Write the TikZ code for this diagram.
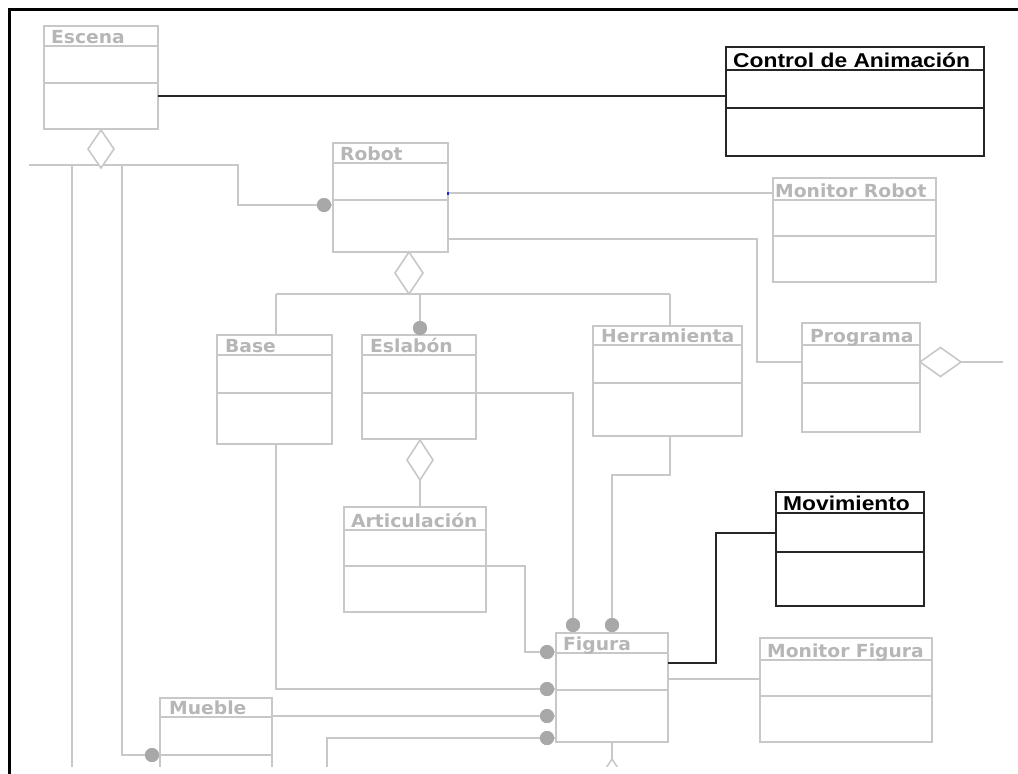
\documentclass[tikz,border=0pt]{standalone}
\usepackage{fontspec}
\usepackage{graphicx}
\setmainfont{DejaVu Sans}
\newfontfamily\grayfont{DejaVu Sans}
\newfontfamily\blackfont{Liberation Sans}
\usetikzlibrary{shapes.geometric,calc}
\definecolor{lgray}{RGB}{200,200,200}
\definecolor{tgray}{RGB}{182,182,182}
\definecolor{dgray}{RGB}{168,168,168}
\definecolor{mblue}{RGB}{40,40,200}
\tikzset{
  gline/.style={draw=lgray, line width=1.9pt},
  bline/.style={draw=black!85, line width=2.4pt},
  gbox/.style={gline, rectangle, inner sep=0pt, outer sep=0pt},
  bbox/.style={bline, rectangle, inner sep=0pt, outer sep=0pt},
  gtitle/.style={text=tgray, font=\grayfont\bfseries\fontsize{18}{19}\selectfont, inner sep=0pt, anchor=base west},
  btitle/.style={text=black, font=\blackfont\bfseries\fontsize{20}{21}\selectfont, inner sep=0pt, anchor=base west},
  diam/.style={diamond, draw=lgray, line width=1.6pt, fill=white, inner sep=0pt, outer sep=0pt},
  gdot/.style={circle, fill=dgray, inner sep=0pt, minimum size=14pt},
}
\def\gsc{1.04}
\def\bsc{1.14}
\def\toff{7}
% #1 name, #2 kind (g/b), #3 x1, #4 y1, #5 x2, #6 y2, #7 title line y, #8 separator y, #9 title
\newcommand\umlbox[9]{%
  \node[#2box, anchor=north west, minimum width={(#5-#3)*1pt}, minimum height={(#6-#4)*1pt}] (#1) at (#3,#4) {};
  \draw[#2line] (#3,#7) -- (#5,#7) (#3,#8) -- (#5,#8);
  \begin{scope}
    \clip (#3,#4) rectangle (#5,#7);
    \node[#2title] (#1-t) at (#3+\toff,#7-3) {\scalebox{\csname #2sc\endcsname}[1]{#9}};
  \end{scope}
}
\begin{document}
\begin{tikzpicture}[x=1pt,y=-1pt]
\useasboundingbox (0,0) rectangle (1018,774);
\fill[white] (0,0) rectangle (1018,774);
\begin{scope}
\clip (0,0) rectangle (1018,766);
% boxes
\umlbox{escena}{g}{44}{26}{158}{129}{46}{83}{Escena}
\umlbox{ctl}{b}{726}{47}{984}{156}{70}{108}{Control de Animación}
\umlbox{robot}{g}{333}{143}{448}{252}{163}{200}{Robot}
\def\toff{2}
\umlbox{mrobot}{g}{773}{178}{936}{282}{200}{236}{Monitor Robot}
\def\toff{8}
\umlbox{base}{g}{217}{335}{332}{444}{355}{393}{Base}
\umlbox{eslabon}{g}{362}{335}{476}{439}{355}{393}{Eslabón}
\umlbox{herr}{g}{593}{326}{742}{436}{345}{383}{Herramienta}
\umlbox{prog}{g}{802}{323}{920}{432}{345}{383}{Programa}
\def\toff{7}
\umlbox{artic}{g}{344}{507}{486}{612}{530}{566}{Articulación}
\umlbox{mov}{b}{776}{492}{924}{606}{513}{552}{Movimiento}
\umlbox{figura}{g}{556}{633}{668}{742}{653}{690}{Figura}
\umlbox{mfig}{g}{760}{638}{932}{742}{660}{696}{Monitor Figura}
\def\toff{9}
\umlbox{mueble}{g}{160}{698}{272}{820}{717}{755}{Mueble}

% free ends
\coordinate (escL) at (29,165);
\coordinate (botA) at (72,780);
\coordinate (botB) at (327,780);
\coordinate (progR) at (1003,362);

% dots
\node[gdot] (dR) at (324,205) {};
\node[gdot] (dEsl) at (420,328) {};
\node[gdot] (dF1) at (573,625) {};
\node[gdot] (dF2) at (612,625) {};
\node[gdot] (dF3) at (547,652) {};
\node[gdot] (dF4) at (547,689) {};
\node[gdot] (dF5) at (547,716) {};
\node[gdot] (dF6) at (547,738) {};
\node[gdot] (dMue) at (152,755) {};

% connectors
\draw[bline] ([yshift=-70pt]escena.north east) -- ([yshift=-49pt]ctl.north west);
\draw[gline] (escL) -- (238,165) -- (238,205) -- (dR);
\draw[gline] (dR) -- (robot.west |- dR);
\draw[gline] (72,165) -- (botA);
\draw[gline] (122,165) -- (122,755) -- (dMue);
\draw[gline] (dMue) -- (mueble.west |- dMue);
\draw[gline] (robot.east |- 0,193) -- (mrobot.west |- 0,193);
\draw[gline] (robot.east |- 0,239) -- (757,239) -- (757,362) -- (prog.west |- 0,362);
\draw[gline] (276,294) -- (670,294);
\draw[gline] (276,294) -- (276,0 |- base.north);
\draw[gline] (420,294) -- (dEsl);
\draw[gline] (dEsl) -- (420,0 |- eslabon.north);
\draw[gline] (670,294) -- (670,0 |- herr.north);
\draw[gline] (eslabon.east |- 0,393) -- (573,393) -- (dF1);
\draw[gline] (420,0 |- eslabon.south) -- (420,0 |- artic.north);
\draw[gline] (artic.east |- 0,566) -- (525,566) -- (525,652) -- (dF3);
\draw[gline] (670,0 |- herr.south) -- (670,475) -- (612,475) -- (dF2);
\draw[gline] (276,0 |- base.south) -- (276,689) -- (dF4);
\draw[gline] (mueble.east |- 0,716) -- (dF5);
\draw[gline] (botB) -- (327,738) -- (dF6);
\draw[gline] (dF1) -- (573,0 |- figura.north);
\draw[gline] (dF2) -- (612,0 |- figura.north);
\draw[gline] (dF3) -- (figura.west |- dF3);
\draw[gline] (dF4) -- (figura.west |- dF4);
\draw[gline] (dF5) -- (figura.west |- dF5);
\draw[gline] (dF6) -- (figura.west |- dF6);
\draw[gline] (figura.east |- 0,679) -- (mfig.west |- 0,679);
\draw[bline] (figura.east |- 0,663) -- (716,663) -- (716,533) -- (mov.west |- 0,533);
\draw[gline] (612,0 |- figura.south) -- (612,760);
% dots on top
\fill[dgray] (dR) circle (7) (dEsl) circle (7) (dF1) circle (7) (dF2) circle (7)
  (dF3) circle (7) (dF4) circle (7) (dF5) circle (7) (dF6) circle (7) (dMue) circle (7);
% diamonds
\node[diam, minimum width=26pt, minimum height=38pt] (dEsc) at (101,149) {};
\node[diam, minimum width=28pt, minimum height=42pt] (dRob) at (409,273) {};
\node[diam, minimum width=26pt, minimum height=40pt] (dEsl2) at (420,460) {};
\node[diam, minimum width=41pt, minimum height=29pt] (dProg) at (940.5,362) {};
\node[diam, minimum width=26pt, minimum height=40pt] (dFig) at (612,779) {};
\draw[gline] (dProg.east) -- (progR);
\fill[mblue] (446.5,192) rectangle (449,195);
\end{scope}
% frame
\draw[black, line width=3pt] (9,774) -- (9,9) -- (1018,9);
\end{tikzpicture}
\end{document}
